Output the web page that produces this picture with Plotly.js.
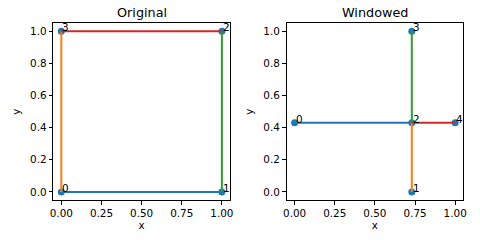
<!DOCTYPE html>
<html><head><meta charset="utf-8">
<script src="https://cdn.plot.ly/plotly-3.0.1.min.js"></script>
<style>body{margin:0;padding:0;}#plot{width:480px;height:240px;}</style>
</head><body><div id="plot"></div>
<script>
// Original mesh
const origX = [0, 1, 1, 0];
const origY = [0, 0, 1, 1];
const origEdges = [[0, 1], [0, 3], [1, 2], [3, 2]];
// Windowed mesh
const winX = [0, 0.73, 0.73, 0.73, 1];
const winY = [0.43, 0, 0.43, 1, 0.43];
const winEdges = [[0, 2], [1, 2], [2, 3], [2, 4]];

const xTickVals = [0, 0.25, 0.5, 0.75, 1];
const xTickText = ['0.00', '0.25', '0.50', '0.75', '1.00'];
const yTickVals = [0, 0.2, 0.4, 0.6, 0.8, 1.0];
const yTickText = ['0.0', '0.2', '0.4', '0.6', '0.8', '1.0'];
const titles = ['Original', 'Windowed'];

const edgeColors = ['#1f77b4', '#ff7f0e', '#2ca02c', '#d62728'];
const font = {family: 'DejaVu Sans', size: 10.4, color: '#000'};

const traces = [];
const annotations = [];
function addMesh(xs, ys, edges, xa, ya) {
  traces.push({x: xs, y: ys, mode: 'markers', type: 'scatter', xaxis: xa, yaxis: ya,
    marker: {color: '#1f77b4', size: 7}, showlegend: false, hoverinfo: 'skip'});
  edges.forEach((e, i) => {
    traces.push({x: [xs[e[0]], xs[e[1]]], y: [ys[e[0]], ys[e[1]]], mode: 'lines', type: 'scatter',
      xaxis: xa, yaxis: ya, line: {color: edgeColors[i % edgeColors.length], width: 2},
      showlegend: false, hoverinfo: 'skip'});
  });
  xs.forEach((x, i) => {
    annotations.push({x: x, y: ys[i], xref: xa, yref: ya, text: String(i), showarrow: false,
      xanchor: 'left', yanchor: 'bottom', xshift: -1, yshift: -4, font: font});
  });
}
addMesh(origX, origY, origEdges, 'x', 'y');
addMesh(winX, winY, winEdges, 'x2', 'y2');

function axis(domain, vals, text, title, anchor, standoff) {
  return {domain: domain, range: [-0.05, 1.05], tickvals: vals, ticktext: text,
    ticks: 'outside', ticklen: 3.6, tickwidth: 1, tickcolor: '#000',
    showline: true, mirror: true, linecolor: '#000', linewidth: 1,
    showgrid: false, zeroline: false, tickfont: font, anchor: anchor,
    title: {text: title, font: font, standoff: standoff}, fixedrange: true};
}

const xd1 = [0.111, 0.479], xd2 = [0.597, 0.965], yd = [0.167, 0.903];
titles.forEach((t, i) => {
  const d = i === 0 ? xd1 : xd2;
  annotations.push({x: (d[0] + d[1]) / 2, y: yd[1], xref: 'paper', yref: 'paper', text: t,
    showarrow: false, xanchor: 'center', yanchor: 'bottom', yshift: 1,
    font: {family: 'DejaVu Sans', size: 12.8, color: '#000'}});
});

const layout = {
  width: 480, height: 240, margin: {l: 0, r: 0, t: 0, b: 0},
  paper_bgcolor: '#fff', plot_bgcolor: '#fff', showlegend: false,
  xaxis: axis(xd1, xTickVals, xTickText, 'x', 'y', 2),
  yaxis: axis(yd, yTickVals, yTickText, 'y', 'x', 7),
  xaxis2: axis(xd2, xTickVals, xTickText, 'x', 'y2', 2),
  yaxis2: axis(yd, yTickVals, yTickText, 'y', 'x2', 7),
  annotations: annotations
};
Plotly.newPlot('plot', traces, layout, {staticPlot: true});
</script></body></html>
